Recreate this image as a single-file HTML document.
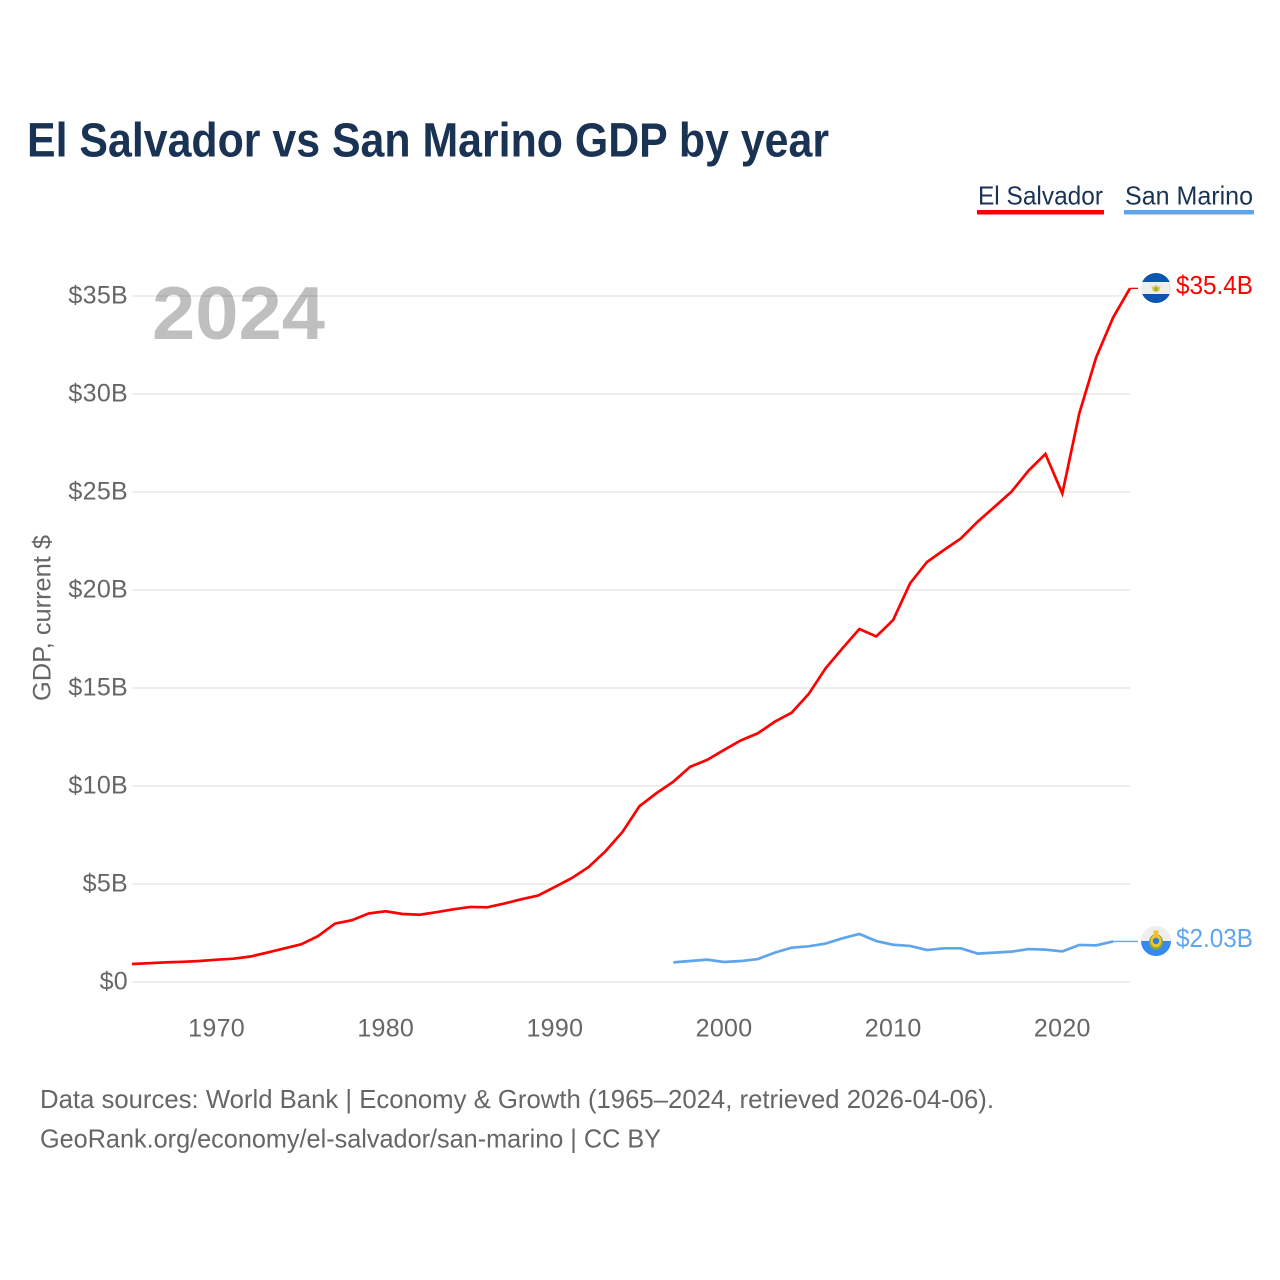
<!DOCTYPE html>
<html lang="en">
<head>
<meta charset="utf-8">
<title>El Salvador vs San Marino GDP by year</title>
<style>
html,body{margin:0;padding:0;background:#fff;width:1280px;height:1280px;overflow:hidden}
svg{display:block}
text{font-family:"Liberation Sans",sans-serif}
</style>
</head>
<body>
<svg id="chart" xmlns="http://www.w3.org/2000/svg" width="1280" height="1280" viewBox="0 0 1280 1280">
  <defs>
    <clipPath id="clip-sv"><circle cx="1156" cy="288" r="15"/></clipPath>
    <clipPath id="clip-sm"><circle cx="1156" cy="941" r="15"/></clipPath>
  </defs>
  <rect width="1280" height="1280" fill="#fff"/>
  <text x="27" y="156.5" font-size="48" font-weight="700" fill="#1a3354" textLength="802" lengthAdjust="spacingAndGlyphs">El Salvador vs San Marino GDP by year</text>

  <g>
    <g>
      <text x="978" y="204.5" font-size="26" fill="#1a3354" textLength="125" lengthAdjust="spacingAndGlyphs">El Salvador</text>
      <rect x="977" y="210" width="127" height="4.5" fill="#ff0000"/>
    </g>
    <g>
      <text x="1125" y="204.5" font-size="26" fill="#1a3354" textLength="128" lengthAdjust="spacingAndGlyphs">San Marino</text>
      <rect x="1124" y="210" width="130" height="4.5" fill="#5fa5ec"/>
    </g>
  </g>

  <g id="grid"></g>
  <text x="152" y="339" font-size="75" font-weight="700" fill="#000" fill-opacity="0.25" textLength="173" lengthAdjust="spacingAndGlyphs">2024</text>
  <g id="y-ticks"></g>
  <g id="x-ticks"></g>
  <text transform="translate(50.5,701) rotate(-90)" font-size="25" fill="#666" textLength="166" lengthAdjust="spacingAndGlyphs">GDP, current $</text>
  <g id="series"></g>

  <g clip-path="url(#clip-sv)">
    <rect x="1141" y="273" width="30" height="30" fill="#eeeeee"/>
    <rect x="1141" y="273" width="30" height="9" fill="#0b56b0"/>
    <rect x="1141" y="294" width="30" height="9" fill="#0b56b0"/>
    <path d="M1151.5 285 L1153.5 287 L1156 284.5 L1158.5 287 L1160.5 285 L1160 290 Q1156 294 1152 290 Z" fill="#e8c95a"/>
    <circle cx="1156" cy="289" r="2" fill="#8fb04a"/>
  </g>
  <text x="1176" y="294" font-size="25.5" fill="#ff0000" textLength="77" lengthAdjust="spacingAndGlyphs">$35.4B</text>

  <g clip-path="url(#clip-sm)">
    <rect x="1141" y="926" width="30" height="30" fill="#eeeeee"/>
    <rect x="1141" y="941" width="30" height="15" fill="#338af3"/>
    <ellipse cx="1156" cy="942" rx="7" ry="8" fill="#7fa83a"/>
    <ellipse cx="1156" cy="941" rx="5.5" ry="6.5" fill="#f2c230"/>
    <circle cx="1156" cy="941" r="3.2" fill="#2f7fd6"/>
    <rect x="1153.5" y="930.5" width="5" height="5" fill="#f2c230"/>
  </g>
  <text x="1176" y="947" font-size="25.5" fill="#5fa5ec" textLength="77" lengthAdjust="spacingAndGlyphs">$2.03B</text>

  <text x="40" y="1108" font-size="26" fill="#666" textLength="954" lengthAdjust="spacingAndGlyphs">Data sources: World Bank | Economy &amp; Growth (1965–2024, retrieved 2026-04-06).</text>
  <text x="40" y="1147.5" font-size="26" fill="#666" textLength="621" lengthAdjust="spacingAndGlyphs">GeoRank.org/economy/el-salvador/san-marino | CC BY</text>
</svg>
<script>
const elSalvadorYears = [1965,1966,1967,1968,1969,1970,1971,1972,1973,1974,1975,1976,1977,1978,1979,1980,1981,1982,1983,1984,1985,1986,1987,1988,1989,1990,1991,1992,1993,1994,1995,1996,1997,1998,1999,2000,2001,2002,2003,2004,2005,2006,2007,2008,2009,2010,2011,2012,2013,2014,2015,2016,2017,2018,2019,2020,2021,2022,2023,2024];
const elSalvadorGdp = [0.92,0.96,1.0,1.03,1.07,1.14,1.19,1.3,1.5,1.71,1.92,2.34,2.98,3.15,3.5,3.61,3.47,3.43,3.56,3.71,3.83,3.81,4.0,4.22,4.41,4.85,5.3,5.87,6.68,7.66,8.97,9.63,10.22,10.98,11.33,11.84,12.33,12.69,13.28,13.74,14.69,16.0,17.02,18.01,17.63,18.47,20.34,21.43,22.04,22.63,23.49,24.25,25.02,26.09,26.94,24.92,29.0,31.87,33.9,35.39];
const sanMarinoYears = [1997,1998,1999,2000,2001,2002,2003,2004,2005,2006,2007,2008,2009,2010,2011,2012,2013,2014,2015,2016,2017,2018,2019,2020,2021,2022,2023];
const sanMarinoGdp = [1.0,1.07,1.14,1.02,1.07,1.17,1.5,1.75,1.82,1.96,2.23,2.45,2.09,1.9,1.84,1.63,1.72,1.72,1.45,1.5,1.55,1.68,1.65,1.56,1.89,1.87,2.07];
const yTickValues = [0,5,10,15,20,25,30,35];
const yTickLabels = ["$0","$5B","$10B","$15B","$20B","$25B","$30B","$35B"];
const xTickValues = [1970,1980,1990,2000,2010,2020];
const xTickLabels = ["1970","1980","1990","2000","2010","2020"];

const NS = 'http://www.w3.org/2000/svg';
const xAxis = year => 132 + (year - 1965) * (1130 - 132) / (2024 - 1965);
const yAxis = value => 982 - value * (982 - 296) / 35;
const gridGroup = document.getElementById('grid');
const yTickGroup = document.getElementById('y-ticks');
const xTickGroup = document.getElementById('x-ticks');
const seriesGroup = document.getElementById('series');

yTickValues.forEach((value, i) => {
  const line = document.createElementNS(NS, 'line');
  
  
  line.setAttribute('x1', 132);
  line.setAttribute('x2', 1130);
  line.setAttribute('y1', yAxis(value));
  line.setAttribute('y2', yAxis(value));
  line.setAttribute('stroke', '#eeeeee');
  line.setAttribute('stroke-width', 2);
  gridGroup.appendChild(line);

  const label = document.createElementNS(NS, 'text');
  
  
  label.setAttribute('x', 128);
  label.setAttribute('y', yAxis(value) + 7.5);
  label.setAttribute('text-anchor', 'end');
  label.setAttribute('font-size', 25);
  label.setAttribute('letter-spacing', 0.3);
  label.setAttribute('fill', '#666');
  label.textContent = yTickLabels[i];
  yTickGroup.appendChild(label);
});

xTickValues.forEach((value, i) => {
  const label = document.createElementNS(NS, 'text');
  
  
  label.setAttribute('x', xAxis(value));
  label.setAttribute('y', 1036.5);
  label.setAttribute('text-anchor', 'middle');
  label.setAttribute('font-size', 25);
  label.setAttribute('letter-spacing', 0.3);
  label.setAttribute('fill', '#666');
  label.textContent = xTickLabels[i];
  xTickGroup.appendChild(label);
});

function drawSeries(name, years, values, color, flagEdge) {
  const path = document.createElementNS(NS, 'path');
  
  
  path.setAttribute('d', years.map((year, i) => (i ? 'L' : 'M') + xAxis(year).toFixed(2) + ' ' + yAxis(values[i]).toFixed(2)).join(' '));
  path.setAttribute('fill', 'none');
  path.setAttribute('stroke', color);
  path.setAttribute('stroke-width', 2.7);
  path.setAttribute('stroke-linejoin', 'miter');
  seriesGroup.appendChild(path);

  const last = values.length - 1;
  const connector = document.createElementNS(NS, 'line');
  
  
  connector.setAttribute('x1', xAxis(years[last]));
  connector.setAttribute('x2', flagEdge);
  connector.setAttribute('y1', yAxis(values[last]));
  connector.setAttribute('y2', yAxis(values[last]));
  connector.setAttribute('stroke', color);
  connector.setAttribute('stroke-width', 1.3);
  seriesGroup.appendChild(connector);
}

drawSeries('el-salvador', elSalvadorYears, elSalvadorGdp, '#ff0000', 1138);
drawSeries('san-marino', sanMarinoYears, sanMarinoGdp, '#5fa5ec', 1138);
</script>
</body>
</html>
